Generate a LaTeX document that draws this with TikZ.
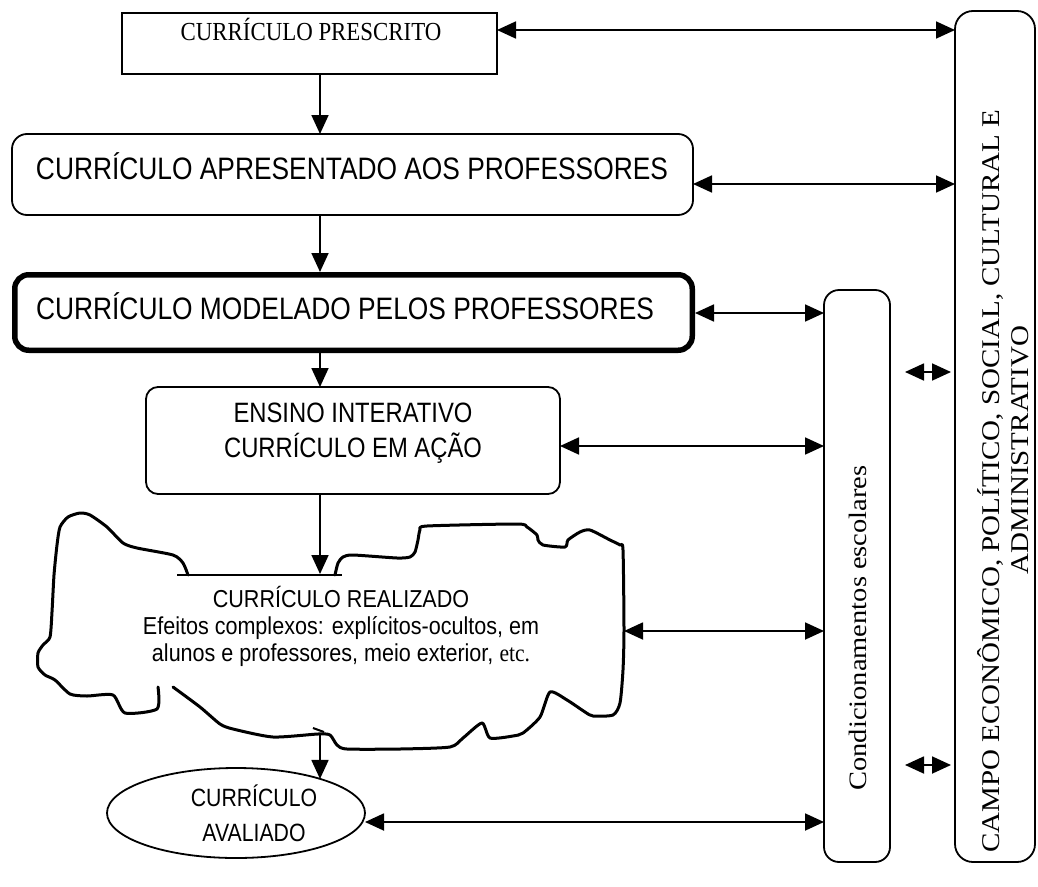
\documentclass[tikz,border=0pt]{standalone}
\usepackage{fontspec}
\setmainfont{Liberation Serif}
\newfontfamily\arial{Liberation Sans}
\usepackage{graphicx}
\usetikzlibrary{arrows.meta,shapes.geometric}
\newcommand\hsq[1]{\scalebox{0.88}[1]{#1}}
\newcommand\hsqb[1]{\scalebox{0.85}[1]{#1}}
\newcommand\vsq[1]{\scalebox{1}[0.88]{#1}}
\begin{document}
\begin{tikzpicture}[x=1pt,y=-1pt,
  >={Triangle[length=19pt,width=17pt]},
  boxline/.style={draw, line width=1.8pt, inner sep=0pt, outer sep=0pt},
  sqbox/.style={boxline, rectangle},
  rbox/.style={boxline, rectangle, rounded corners=15pt},
  conn/.style={line width=1.8pt, ->},
  dconn/.style={line width=1.8pt, <->},
  lbl/.style={inner sep=0pt, anchor=base},
  rlbl/.style={inner sep=0pt, rotate=90},
  cloudline/.style={line width=3pt, line join=round, line cap=round}]

\path[use as bounding box, fill=white] (0,0) rectangle (1038,886);

% boxes
\node[sqbox, minimum width=375pt, minimum height=61pt] (presc) at (309.5,43.5) {};
\node[lbl] (prescT) at (311,40) {\fontsize{26}{30}\selectfont\hsq{CURRÍCULO PRESCRITO}};

\node[rbox, minimum width=681pt, minimum height=81pt] (apres) at (352.5,174.5) {};
\node[lbl] (apresT) at (352,179) {\arial\fontsize{31}{35}\selectfont\hsqb{CURRÍCULO APRESENTADO AOS PROFESSORES}};

\node[draw, line width=5.5pt, rounded corners=14pt, inner sep=0pt, outer sep=2.75pt,
      minimum width=677.5pt, minimum height=75.5pt] (model) at (353.5,312.5) {};
\node[lbl] (modelT) at (345,319) {\arial\fontsize{31}{35}\selectfont\hsqb{CURRÍCULO MODELADO PELOS PROFESSORES}};

\node[rbox, rounded corners=12pt, minimum width=414pt, minimum height=107pt] (ensino) at (353,440.5) {};
\node[lbl] (ensinoT) at (353,422) {\arial\fontsize{28}{35}\selectfont\hsqb{\begin{tabular}[t]{@{}c@{}}ENSINO INTERATIVO\\CURRÍCULO EM AÇÃO\end{tabular}}};

\node[draw, ellipse, line width=1.8pt, inner sep=0pt, outer sep=0pt,
      minimum width=258pt, minimum height=90pt] (aval) at (236,813) {};
\node[lbl] (avalT) at (254,806) {\arial\fontsize{25}{35}\selectfont\hsqb{\begin{tabular}[t]{@{}c@{}}CURRÍCULO\\AVALIADO\end{tabular}}};

\node[rbox, minimum width=66pt, minimum height=572pt] (cond) at (857,576) {};
\node[rlbl] (condT) at (858,628) {\fontsize{28.5}{30}\selectfont\vsq{Condicionamentos escolares}};

\node[rbox, rounded corners=18pt, minimum width=80pt, minimum height=851pt] (field) at (995,436.5) {};
\node[rlbl] (fieldT1) at (990,481) {\fontsize{29}{30}\selectfont\vsq{CAMPO ECONÔMICO, POLÍTICO, SOCIAL, CULTURAL E}};
\node[rlbl] (fieldT2) at (1020,450) {\fontsize{29}{30}\selectfont\vsq{ADMINISTRATIVO}};

% cloud (curriculo realizado)
\draw[cloudline] plot[smooth, tension=0.4] coordinates {(188,575) (183,563) (173,555) (137,548) (123,543) (107,527) (90,515) (80,513) (68,517) (60,527) (57,545) (54,575) (52,612) (50,637) (43,645) (38,653) (38,667) (45,675) (55,680) (70,694) (87,696) (113,695) (125,713) (157,709) (158,687)};
\draw[cloudline] plot[smooth, tension=0.4] coordinates {(173,687) (200,707) (220,724) (233,729) (273,737) (318,734) (330,735) (337,745) (347,749) (400,749) (450,747) (463,738) (482,723) (490,738) (513,736) (523,733) (540,717) (550,692) (567,700) (585,712) (593,716) (613,715) (620,703) (623,670) (624,630) (623,550) (620,545) (610,540) (590,530) (580,532) (568,540) (565,547) (543,545) (538,540) (537,535) (527,527) (517,524) (427,526) (420,530) (418,540) (415,552) (410,557) (397,558) (353,555) (343,557) (338,563) (335,575)};
\draw[line width=2pt] (313,728) -- (324,732);
\draw[line width=2pt] (177,574.5) -- (342,574.5);
\node[lbl] (realT) at (341,607) {\arial\fontsize{24.5}{27.3}\selectfont\hsq{\begin{tabular}[t]{@{}c@{}}CURRÍCULO REALIZADO\\Efeitos complexos: explícitos-ocultos, em\\alunos e professores, meio exterior, {\rmfamily etc.}\end{tabular}}};

\coordinate (ctop) at (320,574);
\coordinate (cbot) at (320,734);
\coordinate (cright) at (624,631);
\coordinate (s1a) at (905,372);
\coordinate (s1b) at (951,372);
\coordinate (s2a) at (905,765);
\coordinate (s2b) at (951,765);

% connectors
\draw[dconn] (presc.east |- 0,30) -- (field.west |- 0,30);
\draw[conn] (presc.south -| 320,0) -- (apres.north -| 320,0);
\draw[dconn] (apres.east |- 0,184) -- (field.west |- 0,184);
\draw[conn] (apres.south -| 320,0) -- (model.north -| 320,0);
\draw[dconn] (model.east |- 0,313) -- (cond.west |- 0,313);
\draw[conn] (model.south -| 320,0) -- (ensino.north -| 320,0);
\draw[dconn] (ensino.east |- 0,446) -- (cond.west |- 0,446);
\draw[conn] (ensino.south -| 320,0) -- (ctop);
\draw[dconn] (cright) -- (cond.west |- cright);
\draw[conn] (cbot) -- (cbot |- aval.22);
\draw[dconn] (aval.east |- 0,822) -- (cond.west |- 0,822);
\draw[dconn] (s1a) -- (s1b);
\draw[dconn] (s2a) -- (s2b);
\end{tikzpicture}
\end{document}
